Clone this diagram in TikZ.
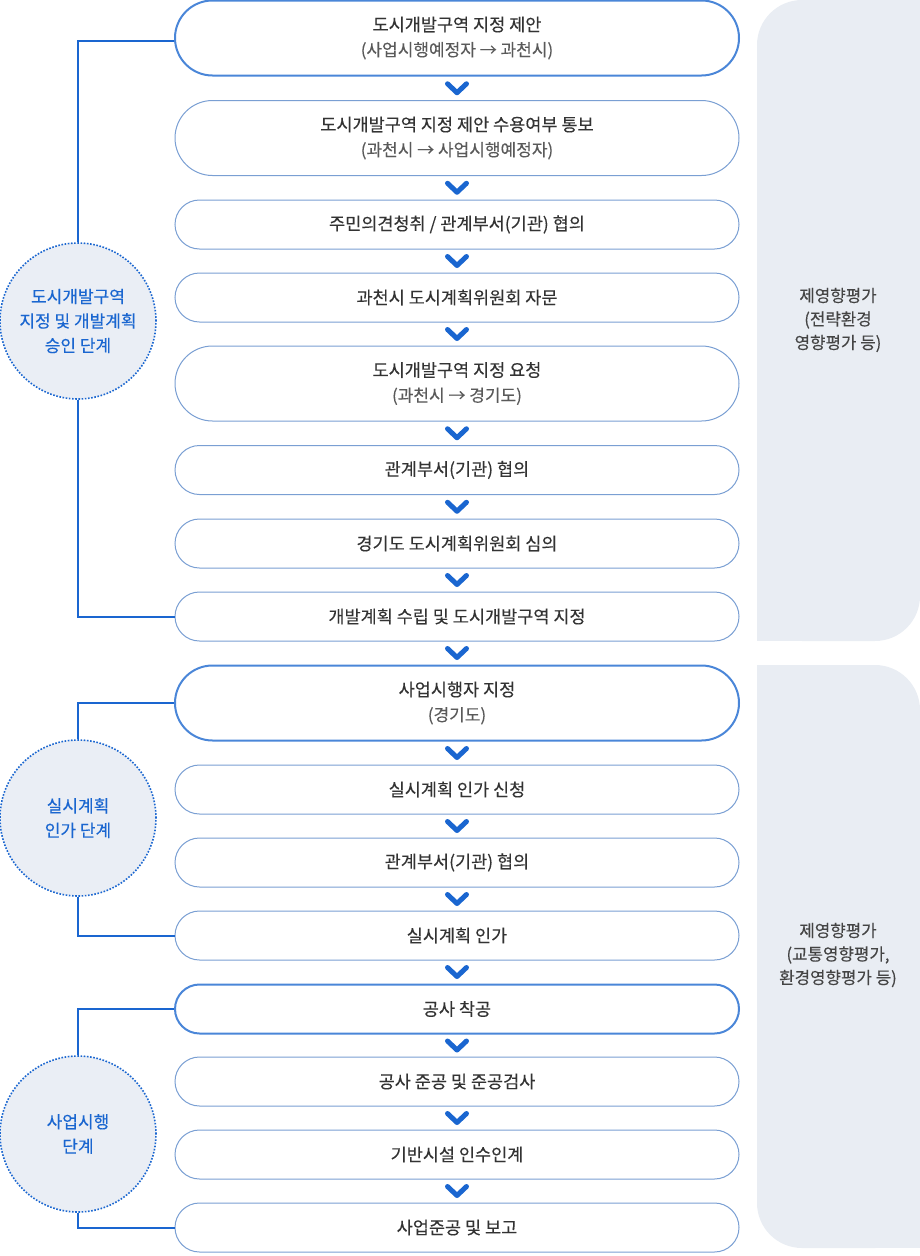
\documentclass[tikz,border=0pt]{standalone}
\usepackage{fontspec}
\setmainfont{Noto Sans CJK KR}[FakeBold=0.2]
\usetikzlibrary{shapes.misc,calc}
\definecolor{bluemain}{HTML}{1A66D0}
\definecolor{keyline}{HTML}{4A86D8}
\definecolor{boxline}{HTML}{7A9FD3}
\definecolor{textdark}{HTML}{333333}
\definecolor{subgray}{HTML}{5A5A5A}
\definecolor{circfill}{HTML}{EAEEF5}
\definecolor{panelfill}{HTML}{E9EDF3}
\definecolor{paneltext}{HTML}{444444}
\tikzset{
  box/.style={rounded rectangle, draw=boxline, line width=1pt, fill=white,
    minimum width=564pt, minimum height=49pt, inner sep=0pt, align=center,
    font=\fontsize{17.5}{25}\selectfont, text=textdark},
  keybox/.style={box, draw=keyline, line width=2pt},
  tall/.style={minimum height=75pt},
  chev/.style={draw=bluemain, line width=5pt, line cap=round, line join=round},
  conn/.style={draw=bluemain, line width=2pt},
  stage/.style={circle, minimum size=156pt, inner sep=0pt, fill=circfill, draw=bluemain,
    line width=1.6pt, dash pattern=on 1.6pt off 1.6pt, text=bluemain, align=center,
    font=\fontsize{17}{24.5}\selectfont},
  ptext/.style={align=center, text=paneltext, font=\fontsize{16.8}{23.5}\selectfont},
}
\newcommand{\subt}[1]{{\color{subgray}\fontsize{17}{25}\selectfont #1}}
\begin{document}
\begin{tikzpicture}[x=1pt,y=-1pt]
\useasboundingbox (0,0) rectangle (920,1256);
% right panels
\fill[panelfill, rounded corners=45pt] (757,0) rectangle (920,641);
\fill[panelfill] (830,0) rectangle (920,100);
\fill[panelfill] (757,541) rectangle (850,641);
\fill[panelfill, rounded corners=45pt] (757,665) rectangle (920,1248);
\fill[panelfill] (757,665) rectangle (850,765);
\fill[panelfill] (830,1148) rectangle (920,1248);
\node[ptext] (p1) at (838,320) {제영향평가\\(전략환경\\영향평가 등)};
\node[ptext] (p2) at (838,955) {제영향평가\\(교통영향평가,\\환경영향평가 등)};
% boxes
\node[keybox, tall] (b1) at (457,38) {도시개발구역 지정 제안\\\subt{(사업시행예정자 → 과천시)}};
\node[box, tall] (b2) at (457,138) {도시개발구역 지정 제안 수용여부 통보\\\subt{(과천시 → 사업시행예정자)}};
\node[box] (b3) at (457,224.5) {주민의견청취 / 관계부서(기관) 협의};
\node[box] (b4) at (457,297.5) {과천시 도시계획위원회 자문};
\node[box, tall] (b5) at (457,383.5) {도시개발구역 지정 요청\\\subt{(과천시 → 경기도)}};
\node[box] (b6) at (457,470) {관계부서(기관) 협의};
\node[box] (b7) at (457,543.5) {경기도 도시계획위원회 심의};
\node[box] (b8) at (457,616.5) {개발계획 수립 및 도시개발구역 지정};
\node[keybox, tall] (b9) at (457,703) {사업시행자 지정\\\subt{(경기도)}};
\node[box] (b10) at (457,789.5) {실시계획 인가 신청};
\node[box] (b11) at (457,862.5) {관계부서(기관) 협의};
\node[box] (b12) at (457,935.5) {실시계획 인가};
\node[keybox] (b13) at (457,1009) {공사 착공};
\node[box] (b14) at (457,1081.5) {공사 준공 및 준공검사};
\node[box] (b15) at (457,1154.5) {기반시설 인수인계};
\node[box] (b16) at (457,1227.5) {사업준공 및 보고};
% chevrons
\foreach \a/\b in {b1/b2,b2/b3,b3/b4,b4/b5,b5/b6,b6/b7,b7/b8,b8/b9,b9/b10,b10/b11,b11/b12,b12/b13,b13/b14,b14/b15,b15/b16}
  \draw[chev] ($(\a.south)!0.5!(\b.north)$) ++(-9.5,-4.5) -- ++(9.5,9) -- ++(9.5,-9);
% stage circles
\node[stage] (c1) at (78,321) {도시개발구역\\지정 및 개발계획\\승인 단계};
\node[stage] (c2) at (78,818) {실시계획\\인가 단계};
\node[stage] (c3) at (78,1134) {사업시행\\단계};
% connectors
\draw[conn] (c1.north) |- ([yshift=-3pt]b1.west);
\draw[conn] (c1.south) |- (b8.west);
\draw[conn] (c2.north) |- (b9.west);
\draw[conn] (c2.south) |- (b12.west);
\draw[conn] (c3.north) |- (b13.west);
\draw[conn] (c3.south) |- (b16.west);
\end{tikzpicture}
\end{document}
